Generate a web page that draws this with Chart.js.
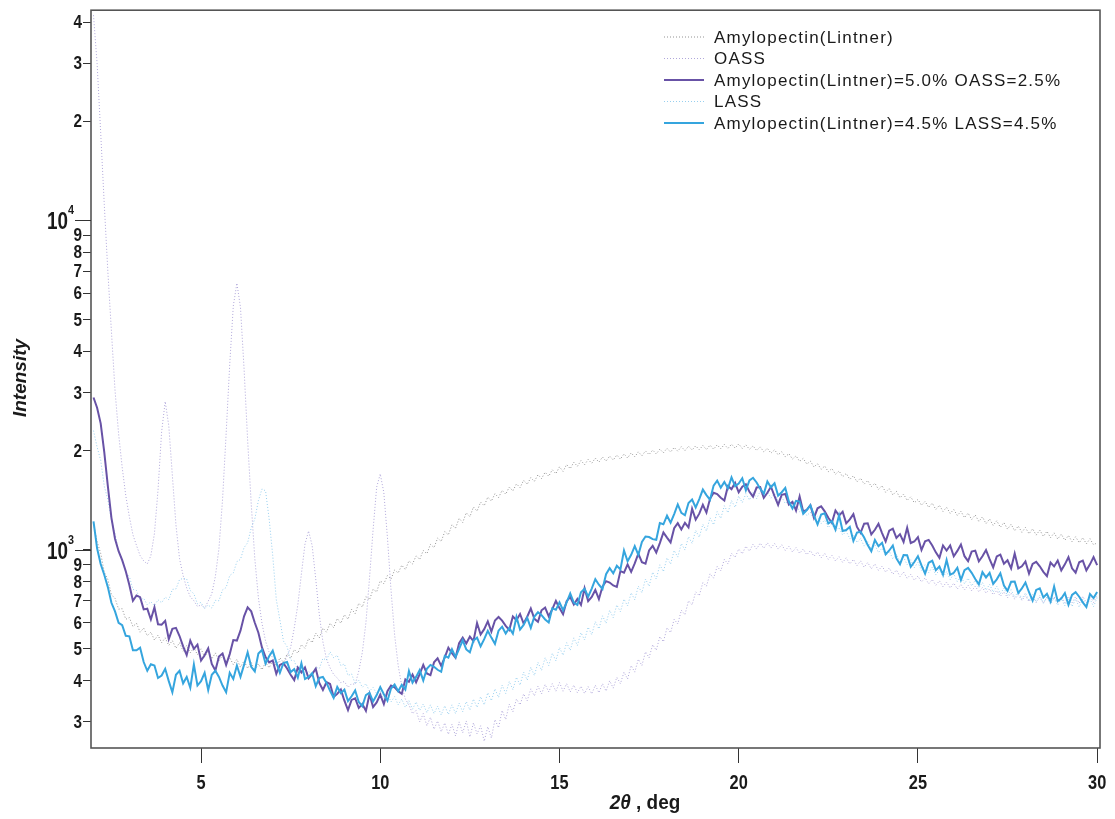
<!DOCTYPE html>
<html lang="en">
<head>
<meta charset="UTF-8">
<title>XRD Intensity</title>
<style>
    html, body { margin: 0; padding: 0; background: #fff; }
    .chart-box { position: relative; width: 1115px; height: 819px; }
</style>
<script src="https://cdn.jsdelivr.net/npm/chart.js"></script>
</head>
<body>
<div class="chart-box"><canvas id="xrdChart"></canvas></div>
<script>
// scan grid: 2θ from 2.0 deg, one reading every 0.1 deg
const thetaStart = 2.0;
const thetaStep = 0.1;

const xTicks = [5, 10, 15, 20, 25, 30];
const yTicks = [300, 400, 500, 600, 700, 800, 900, 1000, 2000, 3000, 4000, 5000,
    6000, 7000, 8000, 9000, 10000, 20000, 30000, 40000];
const decadeTicks = [1000, 10000];

const seriesNames = [
    'Amylopectin(Lintner)',
    'OASS',
    'Amylopectin(Lintner)=5.0% OASS=2.5%',
    'LASS',
    'Amylopectin(Lintner)=4.5% LASS=4.5%'
];

const amylopectin = [
    1200, 1060, 975, 855, 812, 730, 712, 660, 662, 615,
    622, 585, 598, 562, 578, 548, 562, 532, 550, 522,
    540, 512, 530, 502, 522, 492, 512, 486, 505, 480,
    500, 472, 494, 466, 486, 460, 478, 455, 470, 448,
    465, 440, 460, 436, 455, 430, 450, 432, 455, 438,
    462, 443, 470, 455, 482, 468, 498, 485, 515, 502,
    538, 522, 558, 540, 578, 562, 598, 580, 618, 598,
    635, 615, 660, 640, 688, 670, 720, 705, 758, 745,
    805, 788, 835, 815, 868, 850, 898, 870, 925, 905,
    958, 935, 995, 972, 1038, 1015, 1085, 1060, 1135, 1110,
    1190, 1162, 1245, 1210, 1295, 1260, 1348, 1310, 1395, 1360,
    1445, 1405, 1480, 1440, 1515, 1475, 1550, 1510, 1585, 1545,
    1625, 1580, 1655, 1612, 1690, 1645, 1720, 1672, 1750, 1702,
    1785, 1730, 1815, 1762, 1845, 1792, 1865, 1812, 1880, 1830,
    1898, 1845, 1912, 1858, 1925, 1872, 1940, 1885, 1955, 1900,
    1968, 1915, 1982, 1930, 1995, 1945, 2008, 1955, 2020, 1970,
    2032, 1980, 2045, 1992, 2055, 2000, 2062, 2008, 2068, 2012,
    2072, 2015, 2078, 2020, 2082, 2025, 2088, 2030, 2092, 2035,
    2095, 2030, 2082, 2018, 2068, 2002, 2052, 1985, 2032, 1965,
    2012, 1942, 1985, 1915, 1958, 1885, 1928, 1855, 1895, 1820,
    1858, 1785, 1825, 1755, 1795, 1725, 1765, 1695, 1735, 1665,
    1705, 1635, 1678, 1608, 1650, 1582, 1622, 1555, 1592, 1525,
    1565, 1495, 1535, 1468, 1505, 1438, 1475, 1412, 1448, 1388,
    1422, 1365, 1402, 1345, 1385, 1325, 1365, 1308, 1345, 1290,
    1325, 1270, 1308, 1252, 1292, 1235, 1275, 1218, 1258, 1200,
    1240, 1185, 1225, 1170, 1210, 1155, 1195, 1142, 1180, 1130,
    1168, 1118, 1158, 1108, 1148, 1098, 1138, 1088, 1125, 1078,
    1115, 1068, 1105, 1058, 1095, 1050, 1088, 1042, 1080, 1035,
    1050
];

const oass = [
    42000, 30000, 18500, 11200, 7000, 4600, 3050, 2250, 1780, 1460,
    1260, 1110, 1030, 960, 925, 905, 960, 1120, 1520, 2280,
    2820, 2380, 1680, 1190, 940, 835, 765, 720, 700, 672,
    680, 665, 698, 735, 830, 1010, 1420, 2250, 3650, 5500,
    6450, 5450, 3550, 2150, 1380, 940, 715, 598, 528, 488,
    470, 452, 458, 445, 475, 505, 578, 680, 845, 1040,
    1140, 1030, 815, 635, 525, 465, 438, 418, 408, 395,
    398, 382, 392, 390, 428, 488, 600, 820, 1150, 1550,
    1700, 1490, 1090, 755, 552, 445, 385, 352, 338, 318,
    325, 300, 318, 292, 310, 285, 302, 280, 298, 275,
    295, 272, 300, 278, 302, 270, 298, 276, 292, 262,
    290, 268, 305, 288, 325, 305, 340, 322, 352, 338,
    365, 348, 378, 360, 385, 365, 390, 370, 392, 372,
    395, 372, 392, 370, 388, 368, 385, 366, 384, 365,
    388, 368, 392, 372, 400, 380, 410, 392, 425, 405,
    445, 425, 465, 445, 490, 470, 515, 495, 545, 525,
    580, 560, 615, 595, 655, 635, 700, 680, 745, 725,
    795, 775, 845, 820, 890, 862, 935, 905, 975, 948,
    1005, 972, 1025, 990, 1040, 1005, 1048, 1010, 1050, 1012,
    1045, 1005, 1035, 995, 1025, 985, 1015, 975, 1005, 965,
    995, 955, 985, 945, 975, 935, 962, 925, 952, 915,
    945, 905, 935, 895, 925, 885, 915, 875, 905, 865,
    892, 855, 880, 842, 868, 830, 855, 818, 842, 808,
    832, 798, 822, 788, 812, 780, 805, 772, 798, 765,
    792, 760, 785, 755, 780, 750, 775, 745, 768, 738,
    760, 730, 752, 722, 745, 715, 738, 708, 730, 702,
    725, 695, 722, 692, 718, 688, 718, 688, 720, 690,
    722, 690, 722, 690, 720, 688, 722, 690, 725, 692,
    728
];

const amyOass = [
    2900, 2700, 2420, 1980, 1560, 1250, 1080, 990, 930, 860,
    782, 700, 726, 718, 659, 662, 614, 669, 594, 592,
    608, 535, 575, 579, 547, 509, 479, 530, 500, 515,
    461, 478, 502, 450, 430, 474, 484, 447, 482, 532,
    530, 568, 628, 668, 650, 600, 560, 505, 472, 455,
    461, 420, 447, 452, 436, 417, 402, 439, 424, 439,
    407, 419, 435, 394, 375, 396, 391, 357, 365, 376,
    348, 326, 350, 354, 331, 340, 324, 364, 333, 344,
    363, 340, 372, 387, 382, 372, 365, 404, 397, 418,
    396, 419, 447, 421, 416, 455, 468, 444, 471, 504,
    485, 470, 520, 541, 519, 545, 528, 599, 553, 574,
    606, 564, 610, 625, 609, 587, 571, 627, 611, 638,
    597, 626, 663, 617, 604, 655, 667, 628, 660, 699,
    665, 637, 698, 718, 682, 709, 680, 764, 698, 719,
    755, 708, 773, 803, 795, 779, 771, 861, 852, 903,
    857, 909, 973, 917, 907, 995, 1028, 981, 1048, 1129,
    1089, 1053, 1163, 1204, 1152, 1207, 1169, 1332, 1234, 1287,
    1370, 1297, 1428, 1489, 1475, 1438, 1410, 1560, 1528, 1597,
    1494, 1553, 1581, 1499, 1449, 1545, 1550, 1437, 1490, 1554,
    1455, 1368, 1469, 1477, 1372, 1399, 1315, 1452, 1305, 1322,
    1365, 1251, 1336, 1354, 1308, 1251, 1208, 1316, 1270, 1305,
    1203, 1237, 1283, 1173, 1126, 1200, 1203, 1113, 1150, 1199,
    1124, 1060, 1142, 1159, 1086, 1115, 1056, 1166, 1048, 1059,
    1092, 998, 1061, 1071, 1030, 982, 945, 1030, 995, 1030,
    955, 992, 1037, 956, 923, 987, 994, 922, 955, 998,
    936, 884, 954, 967, 907, 929, 878, 974, 878, 891,
    922, 846, 905, 919, 891, 857, 832, 914, 890, 927,
    866, 903, 949, 878, 852, 916, 927, 866, 903, 950,
    898
];

const lass = [
    2300, 2050, 1870, 1560, 1420, 1230, 1120, 985, 940, 850,
    830, 758, 752, 705, 712, 680, 695, 676, 705, 690,
    718, 705, 758, 760, 812, 818, 815, 752, 735, 685,
    692, 662, 680, 665, 702, 700, 755, 768, 835, 850,
    920, 935, 1015, 1050, 1165, 1240, 1410, 1530, 1510, 1240,
    960, 705, 612, 528, 508, 462, 460, 430, 438, 415,
    428, 415, 440, 436, 468, 462, 490, 470, 478, 445,
    450, 415, 420, 392, 402, 382, 392, 372, 382, 365,
    372, 352, 365, 345, 358, 338, 352, 332, 348, 328,
    345, 325, 340, 320, 338, 318, 335, 315, 336, 316,
    338, 318, 342, 322, 346, 326, 352, 332, 358, 338,
    368, 348, 378, 356, 388, 366, 398, 376, 410, 388,
    425, 402, 440, 415, 455, 430, 470, 445, 485, 460,
    505, 478, 522, 495, 540, 512, 560, 532, 582, 552,
    605, 575, 630, 598, 655, 622, 680, 648, 708, 675,
    740, 705, 775, 740, 815, 775, 855, 815, 900, 858,
    945, 905, 995, 950, 1045, 998, 1095, 1045, 1145, 1092,
    1195, 1140, 1250, 1190, 1305, 1245, 1360, 1295, 1410, 1345,
    1455, 1390, 1480, 1415, 1500, 1430, 1505, 1440, 1500, 1435,
    1478, 1412, 1448, 1380, 1412, 1345, 1372, 1305, 1335, 1270,
    1300, 1235, 1265, 1200, 1230, 1168, 1198, 1138, 1168, 1108,
    1138, 1080, 1110, 1052, 1082, 1026, 1058, 1002, 1035, 980,
    1012, 958, 990, 938, 970, 918, 950, 900, 932, 882,
    915, 866, 900, 852, 885, 838, 870, 825, 858, 812,
    845, 800, 832, 788, 820, 776, 808, 765, 796, 754,
    785, 744, 775, 735, 765, 726, 756, 717, 748, 708,
    740, 700, 732, 694, 726, 688, 720, 682, 715, 678,
    712, 675, 710, 672, 708, 670, 708, 670, 710, 672,
    715
];

const amyLass = [
    1220, 1010, 905, 840, 770, 690, 650, 600, 590, 548,
    546, 495, 495, 504, 456, 429, 449, 445, 408, 415,
    435, 399, 369, 417, 429, 393, 411, 381, 448, 387,
    399, 423, 375, 417, 429, 411, 387, 369, 423, 405,
    445, 411, 447, 488, 441, 427, 484, 496, 451, 475,
    494, 455, 423, 453, 456, 425, 434, 409, 452, 405,
    411, 422, 385, 408, 411, 394, 373, 355, 383, 367,
    376, 347, 359, 374, 345, 335, 362, 368, 346, 362,
    383, 364, 348, 379, 390, 372, 389, 376, 428, 395,
    411, 431, 401, 435, 447, 441, 432, 426, 476, 470,
    499, 472, 500, 531, 498, 488, 530, 541, 509, 535,
    567, 541, 518, 568, 584, 557, 579, 556, 625, 572,
    591, 621, 579, 627, 646, 633, 614, 601, 664, 657,
    692, 655, 692, 737, 691, 680, 743, 761, 720, 762,
    814, 783, 760, 843, 879, 848, 894, 871, 995, 923,
    965, 1025, 964, 1056, 1097, 1093, 1077, 1072, 1205, 1195,
    1269, 1208, 1283, 1373, 1294, 1273, 1387, 1421, 1344, 1425,
    1523, 1465, 1419, 1566, 1622, 1544, 1606, 1536, 1658, 1560,
    1589, 1648, 1515, 1624, 1654, 1601, 1533, 1478, 1612, 1548,
    1591, 1460, 1495, 1542, 1401, 1335, 1408, 1401, 1286, 1320,
    1365, 1272, 1194, 1280, 1290, 1201, 1222, 1152, 1273, 1140,
    1148, 1174, 1064, 1127, 1134, 1089, 1033, 989, 1071, 1025,
    1050, 968, 995, 1030, 941, 904, 964, 963, 888, 918,
    956, 896, 846, 913, 926, 867, 889, 840, 931, 839,
    851, 882, 809, 867, 881, 851, 815, 785, 855, 824,
    851, 788, 813, 848, 779, 750, 799, 800, 739, 763,
    795, 743, 700, 755, 764, 716, 735, 696, 773, 698,
    711, 739, 680, 729, 743, 720, 692, 670, 734, 713,
    744
];

const textFont = "'Liberation Sans', Arial, sans-serif";

function toPoints(values) {
    return values.map((v, i) => ({ x: Math.round((thetaStart + i * thetaStep) * 100) / 100, y: v }));
}

function leadDigit(v) {
    return Math.round(v / Math.pow(10, Math.floor(Math.log10(v) + 1e-9)));
}

// condensed bold lettering, squeezed horizontally
function drawNarrow(ctx, text, x, y, size, squeeze, align, style) {
    ctx.save();
    ctx.translate(x, y);
    ctx.scale(squeeze, 1);
    ctx.font = (style || '') + ' bold ' + size + 'px ' + textFont;
    ctx.textAlign = align;
    ctx.fillText(text, 0, 0);
    ctx.restore();
}

const dotted = [1, 2];
const seriesStyle = [
    { color: 'rgba(110,110,110,0.75)', width: 1, dash: dotted, order: 4 },
    { color: 'rgba(150,138,205,0.75)', width: 1, dash: dotted, order: 3 },
    { color: '#6852a6', width: 2, dash: [], order: 1 },
    { color: 'rgba(125,195,235,0.8)', width: 1, dash: dotted, order: 2 },
    { color: '#35a5de', width: 2, dash: [], order: 0 }
];
const seriesValues = [amylopectin, oass, amyOass, lass, amyLass];

// frame, tick labels, axis titles and the legend inside the plot
const decorations = {
    id: 'decorations',
    afterDraw(chart) {
        const { ctx, chartArea: a, scales } = chart;
        ctx.save();

        ctx.strokeStyle = '#555';
        ctx.lineWidth = 1.6;
        ctx.strokeRect(a.left, a.top, a.right - a.left, a.bottom - a.top);

        ctx.fillStyle = '#1a1a1a';
        ctx.textBaseline = 'middle';

        yTicks.forEach(v => {
            if (decadeTicks.includes(v)) return;
            const y = scales.y.getPixelForValue(v);
            drawNarrow(ctx, String(leadDigit(v)), a.left - 9, y + 1, 18, 0.85, 'right');
        });

        xTicks.forEach(v => {
            const x = scales.x.getPixelForValue(v);
            drawNarrow(ctx, String(v), x, 783, 21, 0.78, 'center');
        });

        decadeTicks.forEach(v => {
            const y = Math.round(scales.y.getPixelForValue(v)) + 0.5;
            ctx.strokeStyle = '#333';
            ctx.lineWidth = 1;
            ctx.beginPath();
            ctx.moveTo(a.left - 16, y);
            ctx.lineTo(a.left, y);
            ctx.stroke();
            drawNarrow(ctx, '10', a.left - 23, y + 2, 23, 0.82, 'right');
            ctx.textBaseline = 'alphabetic';
            drawNarrow(ctx, String(Math.round(Math.log10(v))), a.left - 23, y - 7, 12, 0.9, 'left');
            ctx.textBaseline = 'middle';
        });

        // y axis title
        ctx.save();
        ctx.translate(21, 378);
        ctx.rotate(-Math.PI / 2);
        ctx.font = 'italic bold 19px ' + textFont;
        ctx.textAlign = 'center';
        ctx.fillText('Intensity', 0, 0);
        ctx.restore();

        // x axis title: italic 2θ followed by ", deg"
        const partA = '2θ';
        const partB = ' , deg';
        const squeeze = 0.9;
        ctx.font = 'italic bold 21px ' + textFont;
        const wA = ctx.measureText(partA).width * squeeze;
        ctx.font = 'bold 21px ' + textFont;
        const wB = ctx.measureText(partB).width * squeeze;
        const tx = 645 - (wA + wB) / 2;
        drawNarrow(ctx, partA, tx, 803, 21, squeeze, 'left', 'italic');
        drawNarrow(ctx, partB, tx + wA, 803, 21, squeeze, 'left');

        // legend
        const rowY = [37, 58.5, 80, 101.5, 123];
        ctx.font = '17px ' + textFont;
        ctx.letterSpacing = '1.2px';
        ctx.textAlign = 'left';
        seriesNames.forEach((name, i) => {
            const st = seriesStyle[i];
            const y = rowY[i];
            ctx.strokeStyle = st.color;
            ctx.lineWidth = st.width;
            ctx.setLineDash(st.dash);
            ctx.beginPath();
            ctx.moveTo(664, y);
            ctx.lineTo(704, y);
            ctx.stroke();
            ctx.setLineDash([]);
            ctx.fillStyle = '#1a1a1a';
            ctx.fillText(name, 714, y + 1);
        });
        ctx.letterSpacing = '0px';
        ctx.restore();
    }
};

const chart = new Chart(document.getElementById('xrdChart'), {
    type: 'line',
    data: {
        datasets: seriesNames.map((name, i) => ({
            label: name,
            data: toPoints(seriesValues[i]),
            borderColor: seriesStyle[i].color,
            borderWidth: seriesStyle[i].width,
            borderDash: seriesStyle[i].dash,
            order: seriesStyle[i].order,
            pointRadius: 0,
            fill: false,
            tension: 0
        }))
    },
    options: {
        responsive: true,
        maintainAspectRatio: false,
        animation: false,
        layout: { padding: { top: 10, right: 15, left: 0, bottom: 0 } },
        plugins: {
            legend: { display: false },
            tooltip: { enabled: false }
        },
        scales: {
            x: {
                type: 'linear',
                min: 1.93,
                max: 30.08,
                afterFit: s => { s.height = 71; },
                afterBuildTicks: s => { s.ticks = xTicks.map(v => ({ value: v })); },
                grid: { drawOnChartArea: false, drawTicks: true, tickLength: 15, color: '#333' },
                border: { display: false },
                ticks: { autoSkip: false, maxRotation: 0, callback: () => '' }
            },
            y: {
                type: 'logarithmic',
                min: 250,
                max: 43500,
                afterFit: s => { s.width = 91; },
                afterBuildTicks: s => { s.ticks = yTicks.map(v => ({ value: v })); },
                grid: { drawOnChartArea: false, drawTicks: true, tickLength: 8, color: '#333' },
                border: { display: false },
                ticks: { autoSkip: false, callback: () => '' }
            }
        }
    },
    plugins: [decorations]
});
</script>
</body>
</html>
